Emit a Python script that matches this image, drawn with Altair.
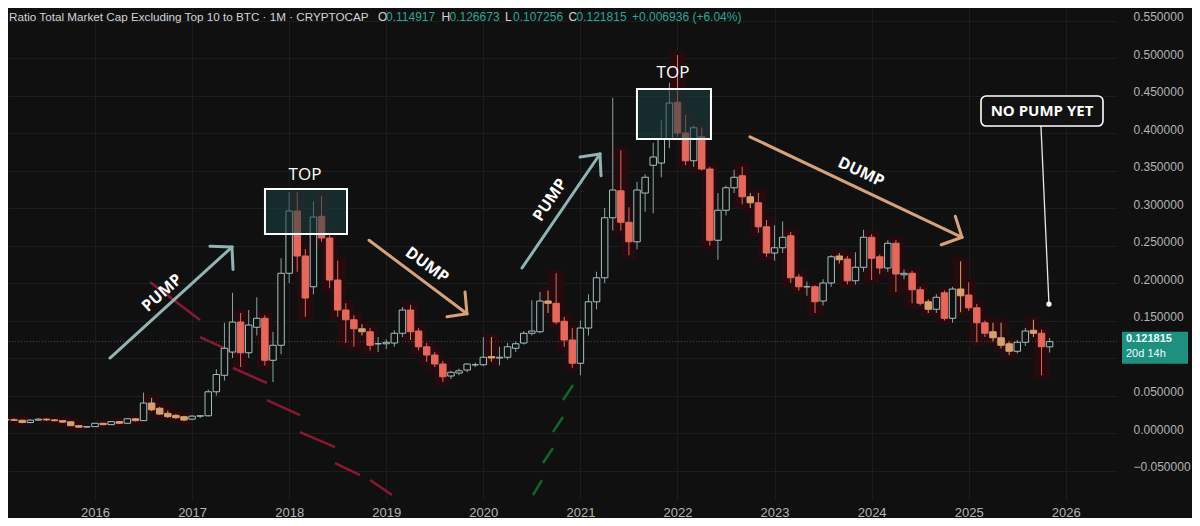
import altair as alt
import pandas as pd

# ---------------- data (monthly candles, Feb 2015 .. Nov 2025) ----------------
START = "2015-02"
opens = [
    .0175, .0178, .0170, .0140, .0172, .0185, .0175, .0165, .0150, .0098, .0080,
    .0085, .0130, .0112, .0152, .0130, .0190, .0165, .0400, .0330, .0262, .0236, .0218,
    .0185, .0225, .0230, .0550, .0770, .1080, .1480, .1070, .1410, .1530, .0970, .1170,
    .2130, .2960, .2360, .1950, .2890, .2600, .2040, .1640, .1510, .1390, .1350, .1190,
    .1190, .1200, .1330, .1640, .1360, .1150, .1040, .0920, .0760, .0800, .0840, .0910,
    .0910, .1020, .1000, .1010, .1130, .1200, .1330, .1350, .1760, .1730, .1490, .1240,
    .0930, .1400, .1750, .2070, .2870, .3230, .2810, .2550, .3200, .3570, .3600, .3920,
    .4410, .4000, .3630, .3950, .3520, .2570, .2970, .3270, .3430, .3150, .3070, .2750,
    .2400, .2470, .2630, .2080, .1950, .1950, .1760, .2000, .2360, .2320, .2030, .2210,
    .2610, .2350, .2200, .2530, .2110, .2130, .1910, .1750, .1650, .1870, .1530, .1920,
    .1840, .1670, .1470, .1350, .1270, .1190, .1090, .1210, .1370, .1330, .114917,
]
highs = [
    .0190, .0195, .0180, .0185, .0200, .0195, .0185, .0172, .0155, .0105, .0092,
    .0135, .0135, .0160, .0158, .0200, .0195, .0540, .0470, .0350, .0300, .0250, .0230,
    .0240, .0240, .0580, .0850, .1470, .1870, .1600, .1640, .1810, .1570, .1350, .2330,
    .3210, .3210, .2450, .3090, .3160, .2650, .2300, .1730, .1570, .1450, .1400, .1280,
    .1250, .1370, .1680, .1710, .1400, .1200, .1080, .0960, .0830, .0860, .0930, .0940,
    .1280, .1280, .1150, .1200, .1220, .1360, .1770, .1880, .1900, .2130, .1550, .1400,
    .1500, .1850, .2150, .3000, .4470, .3770, .3010, .3350, .3450, .3870, .4170, .4670,
    .5040, .4240, .4100, .4070, .3550, .3200, .3300, .3510, .3550, .3200, .3200, .2840,
    .2770, .2820, .2680, .2120, .2020, .1970, .2050, .2370, .2400, .2360, .2410, .2710,
    .2650, .2380, .2570, .2570, .2180, .2160, .1950, .1780, .1850, .1900, .1950, .2290,
    .2010, .1720, .1500, .1470, .1470, .1220, .1240, .1400, .1510, .1380, .126673,
]
lows = [
    .0160, .0160, .0130, .0130, .0165, .0160, .0155, .0140, .0095, .0072, .0075,
    .0080, .0105, .0108, .0125, .0125, .0155, .0160, .0290, .0240, .0200, .0190, .0160,
    .0170, .0200, .0220, .0500, .0700, .1000, .0880, .1000, .1300, .0900, .0680, .1050,
    .2000, .2150, .1550, .1850, .2550, .1930, .1550, .1200, .1150, .1300, .1100, .1080,
    .1120, .1150, .1280, .1240, .1100, .0950, .0880, .0680, .0720, .0770, .0810, .0880,
    .0890, .0950, .0900, .0980, .1080, .1180, .1300, .1330, .1600, .1450, .1150, .0870,
    .0770, .1300, .1650, .2000, .2700, .2700, .2370, .2450, .2950, .2930, .3410, .3800,
    .3950, .3570, .3550, .3500, .2500, .2310, .2900, .3200, .3050, .3000, .2670, .2350,
    .2300, .2400, .2000, .1900, .1830, .1600, .1700, .1950, .2260, .1980, .1980, .2150,
    .2040, .2120, .2150, .1880, .2050, .1730, .1700, .1600, .1600, .1500, .1470, .1610,
    .1630, .1210, .1280, .1220, .1130, .1040, .1060, .1160, .1280, .0770, .107256,
]
closes = [
    .0178, .0170, .0140, .0172, .0185, .0175, .0165, .0145, .0098, .0078, .0085,
    .0130, .0112, .0152, .0130, .0190, .0165, .0400, .0310, .0253, .0218, .0204, .0173,
    .0225, .0230, .0550, .0780, .1130, .1480, .1070, .1440, .1530, .0970, .1170, .2130,
    .2960, .2360, .1800, .2880, .2600, .2040, .1640, .1510, .1390, .1350, .1170, .1190,
    .1210, .1330, .1640, .1350, .1150, .1040, .0920, .0750, .0810, .0830, .0920, .0910,
    .1010, .1000, .1010, .1150, .1190, .1330, .1360, .1760, .1730, .1480, .1240, .0930,
    .1400, .1750, .2070, .2870, .3240, .2810, .2550, .3240, .3410, .3680, .3920, .4400,
    .4000, .3630, .4070, .3520, .2570, .2970, .3270, .3410, .3150, .3070, .2750, .2400,
    .2470, .2610, .2070, .1950, .1950, .1750, .2000, .2350, .2310, .2030, .2210, .2610,
    .2330, .2200, .2530, .2120, .2130, .1910, .1730, .1650, .1810, .1530, .1920, .1830,
    .1670, .1470, .1330, .1270, .1170, .1090, .1210, .1360, .1330, .1150, .121815,
]
assert len(opens) == len(highs) == len(lows) == len(closes) == 130

YEAR_TICKS = list(range(2016, 2027))
PRICE_TICKS = [-0.05, 0.0, 0.05, 0.10, 0.15, 0.20, 0.25, 0.30, 0.35, 0.40, 0.45, 0.50, 0.55]
LAST_CLOSE = 0.121815

TITLE = "Ratio Total Market Cap Excluding Top 10 to BTC · 1M · CRYPTOCAP"
OHLC_LABELS = ["O", "H", "L", "C"]
OHLC_VALUES = ["0.114917", "0.126673", "0.107256", "0.121815"]
CHANGE = "+0.006936 (+6.04%)"

# annotations, in (month index from Jan 2015, value)
PUMP_LINES = [((13.85, 0.100), (28.93, 0.248)), ((64.78, 0.220), (74.42, 0.372))]
DUMP_LINES = [((45.87, 0.257), (57.98, 0.159)), ((92.96, 0.395), (119.17, 0.261))]
PUMP_HEADS = [((28.93, 0.248), (26.21, 0.249)), ((28.93, 0.248), (29.06, 0.218)),
              ((74.42, 0.372), (71.95, 0.368)), ((74.42, 0.372), (74.55, 0.343))]
DUMP_HEADS = [((57.98, 0.159), (55.51, 0.155)), ((57.98, 0.159), (57.74, 0.188)),
              ((119.17, 0.261), (116.6, 0.251)), ((119.17, 0.261), (118.34, 0.289))]
TOP_BOXES = [(33.01, 43.15, 0.2653, 0.3253), (78.99, 88.14, 0.392, 0.4587)]
TOP_LABELS = [(37.96, 0.344), (83.45, 0.480)]
WORD_LABELS = [  # text, idx, value, angle
    ("PUMP", 20.28, 0.1867, 318),
    ("DUMP", 53.04, 0.224, 36),
    ("PUMP", 68.24, 0.3107, 304),
    ("DUMP", 106.69, 0.348, 25),
]
NOPUMP_BOX = (121.52, 136.6, 0.4093, 0.4493)
NOPUMP_LINE = [(128.93, 0.4093), (129.92, 0.172)]
GHOST_RED = [
    ((18.8, 0.2013), (24.98, 0.1507)), ((24.98, 0.128), (29.06, 0.108)),
    ((29.06, 0.0867), (33.26, 0.0667)), ((33.26, 0.044), (37.34, 0.024)),
    ((37.34, 0.0013), (41.67, -0.0187)), ((41.67, -0.040), (44.76, -0.056)),
    ((46.0, -0.0627), (48.71, -0.0827)),
]
GHOST_GREEN = [
    ((66.14, -0.0827), (67.25, -0.0627)), ((67.38, -0.040), (68.61, -0.020)),
    ((68.61, 0.0013), (69.85, 0.0213)), ((69.85, 0.044), (71.09, 0.064)),
]

# ---------------- styling ----------------
BG = "#101010"
GRID = "#1d1d1d"
UP = "#a3c1bf"
UP_WICK = "#86a5a3"
DOWN = "#e4685c"
DOWN_SMALL = "#d8a070"
TEAL = "#2aa596"
AX_FONT = "Liberation Sans"
ANN_FONT = "Open Sans"

months = pd.period_range(START, periods=len(opens), freq="M")
df = pd.DataFrame({
    "idx": [(p.year - 2015) * 12 + (p.month - 1) for p in months],
    "open": opens, "high": highs, "low": lows, "close": closes,
})
df["kind"] = [
    "up" if c >= o else ("small" if (o - c) < 0.011 else "down")
    for o, c in zip(df["open"], df["close"])
]

XS = alt.Scale(domain=[1.246, 138.33], nice=False, zero=False)
YS = alt.Scale(domain=[-0.0893, 0.5667], nice=False, zero=False)

x_axis = alt.Axis(
    values=[(y - 2015) * 12 for y in YEAR_TICKS],
    labelExpr="toString(2015 + round(datum.value / 12))",
    grid=True, gridColor=GRID, ticks=False, domain=False, title=None,
    labelColor="#b4b4b4", labelFont=AX_FONT, labelFontSize=13, labelPadding=6,
    labelFlush=False, labelOverlap=False, zindex=0,
)
# the 0.10 label sits under the last-price tag, so it is left blank
y_axis = alt.Axis(
    orient="right", values=PRICE_TICKS, format=".6f",
    labelExpr="abs(datum.value - 0.1) < 1e-9 ? '' : datum.label",
    grid=True, gridColor=GRID, ticks=False, domain=False, title=None,
    labelColor="#b4b4b4", labelFont=AX_FONT, labelFontSize=12, labelPadding=16,
    labelAlign="left", labelOffset=-4, labelFlush=False, labelOverlap=False, zindex=0,
)


def X(field):
    return alt.X(field, type="quantitative", scale=XS, axis=x_axis)


def Y(field):
    return alt.Y(field, type="quantitative", scale=YS, axis=y_axis)


base = alt.Chart(df)

glow = base.transform_filter("datum.kind != 'up'").transform_calculate(
    gx0="datum.idx - 1.0", gx1="datum.idx + 1.0",
    glo="datum.low - 0.005", ghi="datum.high + 0.005",
).mark_rect(color="#250a0e").encode(
    x=X("gx0"), x2="gx1", y=Y("glo"), y2="ghi"
)

wick = base.mark_rule(strokeWidth=1).encode(
    x=X("idx"), y=Y("low"), y2="high",
    color=alt.Color("kind:N", scale=alt.Scale(domain=["up", "down", "small"],
                                              range=[UP_WICK, DOWN, DOWN_SMALL]), legend=None),
)

body = base.transform_calculate(
    x0="datum.idx - 0.4", x1="datum.idx + 0.4"
).mark_rect(strokeWidth=1).encode(
    x=X("x0"), x2="x1", y=Y("open"), y2="close",
    fill=alt.Fill("kind:N", scale=alt.Scale(domain=["up", "down", "small"],
                                            range=[BG, DOWN, DOWN_SMALL]), legend=None),
    stroke=alt.Stroke("kind:N", scale=alt.Scale(domain=["up", "down", "small"],
                                                range=[UP, DOWN, DOWN_SMALL]), legend=None),
)


def seg_df(segs):
    return pd.DataFrame([{"xa": a[0], "ya": a[1], "xb": b[0], "yb": b[1]} for a, b in segs])


def segments(segs, color, width, opacity=1.0, cap="round"):
    return alt.Chart(seg_df(segs)).mark_rule(
        color=color, strokeWidth=width, opacity=opacity, strokeCap=cap
    ).encode(x=X("xa"), y=Y("ya"), x2="xb", y2="yb")


ghost_red = segments(GHOST_RED, "#a01a36", 2.5, 0.85, "butt")
ghost_green = segments(GHOST_GREEN, "#10762f", 2.5, 0.85, "butt")

price_line = alt.Chart(pd.DataFrame({"p": [LAST_CLOSE]})).mark_rule(
    color="#4a4a4a", strokeWidth=1, strokeDash=[1, 2]
).encode(y=Y("p"))

pump_arrows = segments(PUMP_LINES + PUMP_HEADS, "#8fb4b3", 3)
dump_arrows = segments(DUMP_LINES + DUMP_HEADS, "#d6a27c", 3)

boxes_df = pd.DataFrame([{"xa": a, "xb": b, "ya": c, "yb": d} for a, b, c, d in TOP_BOXES])
boxes = alt.Chart(boxes_df).mark_rect(
    fill="#1b4244", fillOpacity=0.55, stroke="white", strokeWidth=2
).encode(x=X("xa"), x2="xb", y=Y("ya"), y2="yb")

top_df = pd.DataFrame([{"x": a, "y": b, "t": "TOP"} for a, b in TOP_LABELS])
top_text = alt.Chart(top_df).mark_text(
    color="white", font=ANN_FONT, fontSize=17, fontWeight=500
).encode(x=X("x"), y=Y("y"), text="t:N")

word_layers = []
for t, xi, yv, ang in WORD_LABELS:
    word_layers.append(
        alt.Chart(pd.DataFrame({"x": [xi], "y": [yv], "t": [t]})).mark_text(
            color="white", font=ANN_FONT, fontSize=16, fontWeight="bold", angle=ang
        ).encode(x=X("x"), y=Y("y"), text="t:N")
    )

np_line = segments([tuple(NOPUMP_LINE)], "#e8e8e8", 1.3, 1.0, "butt")
np_dot = alt.Chart(pd.DataFrame({"x": [NOPUMP_LINE[1][0]], "y": [NOPUMP_LINE[1][1]]})).mark_point(
    filled=True, color="white", size=28, opacity=1
).encode(x=X("x"), y=Y("y"))
np_box = alt.Chart(pd.DataFrame([{"xa": NOPUMP_BOX[0], "xb": NOPUMP_BOX[1],
                                  "ya": NOPUMP_BOX[2], "yb": NOPUMP_BOX[3]}])).mark_rect(
    fill="#121212", stroke="white", strokeWidth=1.6, cornerRadius=5
).encode(x=X("xa"), x2="xb", y=Y("ya"), y2="yb")
np_text = alt.Chart(pd.DataFrame({
    "x": [(NOPUMP_BOX[0] + NOPUMP_BOX[1]) / 2], "y": [(NOPUMP_BOX[2] + NOPUMP_BOX[3]) / 2],
    "t": ["NO PUMP YET"]
})).mark_text(color="white", font=ANN_FONT, fontSize=15, fontWeight="bold").encode(
    x=X("x"), y=Y("y"), text="t:N"
)

# ---------------- header & price tag (labels) ----------------
one = alt.Data(values=[{"a": 1}])


def label(text, px, py, color, size=12, weight="normal", align="left", font=AX_FONT):
    return alt.Chart(one).mark_text(
        align=align, baseline="middle", color=color, fontSize=size, fontWeight=weight, font=font
    ).encode(x=alt.value(px), y=alt.value(py), text=alt.value(text))


header = [label(TITLE, 1, 9, "#d1d4dc", size=11.7)]
for i, (lab, val) in enumerate(zip(OHLC_LABELS, OHLC_VALUES)):
    x0 = 370 + i * 63.5
    header.append(label(lab, x0, 9, "#d1d4dc"))
    header.append(label(val, x0 + 8, 9, TEAL))
header.append(label(CHANGE, 624, 9, TEAL))

tag_y = alt.Y(datum=LAST_CLOSE, type="quantitative", scale=YS, axis=y_axis)
tag_rect = alt.Chart(one).mark_rect(fill="#1f8f80", yOffset=-10, y2Offset=22).encode(
    x=alt.value(1114), x2=alt.value(1180), y=tag_y, y2=alt.Y2(datum=LAST_CLOSE),
)
tag_t1 = alt.Chart(one).mark_text(
    align="left", baseline="middle", color="#e8fffb", fontSize=11, fontWeight="bold",
    font=AX_FONT, dy=-3
).encode(x=alt.value(1118), y=tag_y, text=alt.value(OHLC_VALUES[3]))
tag_t2 = alt.Chart(one).mark_text(
    align="left", baseline="middle", color="#e8fffb", fontSize=11, font=AX_FONT, dy=12
).encode(x=alt.value(1118), y=tag_y, text=alt.value("20d 14h"))

chart = alt.layer(
    glow, ghost_red, ghost_green, price_line, wick, body, boxes, pump_arrows, dump_arrows,
    top_text, *word_layers, np_line, np_dot, np_box, np_text, *header, tag_rect, tag_t1, tag_t2,
).resolve_scale(
    color="independent", fill="independent", stroke="independent"
).properties(
    width=1109, height=492,
    padding={"left": 0, "top": 0, "right": 75, "bottom": 18},
    autosize=alt.AutoSizeParams(type="none"),
    background=BG,
).configure_view(stroke=None, fill=BG)

chart.save("out.html", embed_options={"renderer": "svg", "actions": False})
